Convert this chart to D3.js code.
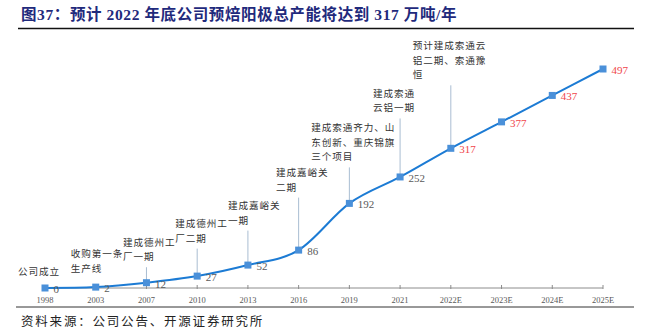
<!DOCTYPE html>
<html><head><meta charset="utf-8">
<script src="https://cdn.jsdelivr.net/npm/d3@7"></script>
<style>
html,body{margin:0;padding:0;background:#fff;}
svg{display:block;}
</style></head>
<body>
<script>
// ---- data ----
const titleText = "图37：预计 2022 年底公司预焙阳极总产能将达到 317 万吨/年";
const sourceText = "资料来源：公司公告、开源证券研究所";
const categories = ["1998","2003","2007","2010","2013","2016","2019","2021","2022E","2023E","2024E","2025E"];
const capacity = [0,2,12,27,52,86,192,252,317,377,437,497];
const forecastCats = ["2022E","2023E","2024E","2025E"];
const annotationCats = ["1998","2003","2007","2010","2013","2016","2019","2021","2022E"];
const annotationTexts = [
  ["公司成立"],
  ["收购第一条","生产线"],
  ["建成德州工","厂一期"],
  ["建成德州工","厂二期"],
  ["建成嘉峪关","一期"],
  ["建成嘉峪关","二期"],
  ["建成索通齐力、山","东创新、重庆锦旗","三个项目"],
  ["建成索通","云铝一期"],
  ["预计建成索通云","铝二期、索通豫","恒"]
];

// ---- layout (offsets of annotation text relative to its point) ----
const annotLayout = {
  "1998":[-27,-17,false], "2003":[-25,-34,false], "2007":[-23.5,-41,true],
  "2010":[-22,-53,true], "2013":[-20,-60,true], "2016":[-22.6,-78,true],
  "2019":[-38,-76,true], "2021":[-27,-84,true], "2022E":[-38,-103,true]
};

const W = 645, H = 336;
const svg = d3.select("body").append("svg").attr("width", W).attr("height", H);

// title
svg.append("text").attr("x", 21).attr("y", 20)
  .attr("font-family", "'Liberation Serif','Noto Sans CJK SC',serif")
  .attr("font-weight", "bold").attr("font-size", 15.5)
  .attr("letter-spacing", 0.6)
  .attr("fill", "#1f2a7c").text(titleText);
svg.append("line").attr("x1", 18).attr("x2", 634).attr("y1", 28.5).attr("y2", 28.5)
  .attr("stroke", "#111").attr("stroke-width", 1.4);

// scales
const x = d3.scalePoint().domain(categories).range([45, 603]);
const y = d3.scaleLinear().domain([0, 497]).range([288, 69]);

// axis
const axisG = svg.append("g").attr("transform", "translate(0,288)");
axisG.append("line").attr("x1", x.range()[0]).attr("x2", x.range()[1])
  .attr("stroke", "#8c8c8c").attr("stroke-width", 1);
axisG.selectAll("line.tick").data(categories).join("line").attr("class","tick")
  .attr("x1", d => x(d)).attr("x2", d => x(d)).attr("y1", -3).attr("y2", 1)
  .attr("stroke", "#8c8c8c");
axisG.selectAll("text").data(categories).join("text")
  .attr("x", d => x(d)).attr("y", 14.5).attr("text-anchor", "middle")
  .attr("font-family", "'Liberation Serif',serif").attr("font-size", 8.5)
  .attr("fill", "#595959").text(d => d);

// annotations
const lineH = 14.5;
annotationCats.forEach((c, i) => {
  const v = capacity[categories.indexOf(c)];
  const px = x(c), py = y(v);
  const [dx, dy, leader] = annotLayout[c];
  const lines = annotationTexts[i];
  const t = svg.append("text")
    .attr("font-family", "'Noto Sans CJK SC',sans-serif").attr("font-size", 9.6)
    .attr("letter-spacing", 0.9).attr("fill", "#333");
  lines.forEach((s, k) => {
    t.append("tspan").attr("x", px + dx).attr("y", py + dy + k * lineH)
      .attr("dominant-baseline", "central").text(s);
  });
  if (leader) {
    const top = py + dy + (lines.length - 1) * lineH + 11;
    svg.append("line").attr("x1", px).attr("x2", px).attr("y1", top).attr("y2", py - 2)
      .attr("stroke", "#a9bdd2").attr("stroke-width", 1);
  }
});

// line
const pts = categories.map((c, i) => [x(c), y(capacity[i])]);
svg.append("path").attr("d", d3.line().curve(d3.curveCardinal.tension(0))(pts))
  .attr("fill", "none").attr("stroke", "#1c7bd4").attr("stroke-width", 2);

// markers
svg.selectAll("rect.m").data(categories).join("rect").attr("class","m")
  .attr("x", d => x(d) - 3.5).attr("y", (d, i) => y(capacity[i]) - 3.5)
  .attr("width", 7).attr("height", 7).attr("fill", "#4a90d9");

// value labels
svg.selectAll("text.v").data(categories).join("text").attr("class","v")
  .attr("x", d => x(d) + 8.5).attr("y", (d, i) => y(capacity[i]) + 1)
  .attr("dominant-baseline", "central")
  .attr("font-family", "'Liberation Serif',serif").attr("font-size", 11)
  .attr("fill", d => forecastCats.includes(d) ? "#f0464a" : "#595959")
  .text((d, i) => capacity[i]);

// bottom rule + source
svg.append("line").attr("x1", 16).attr("x2", 634).attr("y1", 307).attr("y2", 307)
  .attr("stroke", "#333").attr("stroke-width", 1);
svg.append("text").attr("x", 21).attr("y", 320).attr("dominant-baseline", "central")
  .attr("font-family", "'Noto Sans CJK SC',sans-serif").attr("font-size", 12.5)
  .attr("letter-spacing", 1.8).attr("fill", "#222").text(sourceText);
</script>
</body></html>
